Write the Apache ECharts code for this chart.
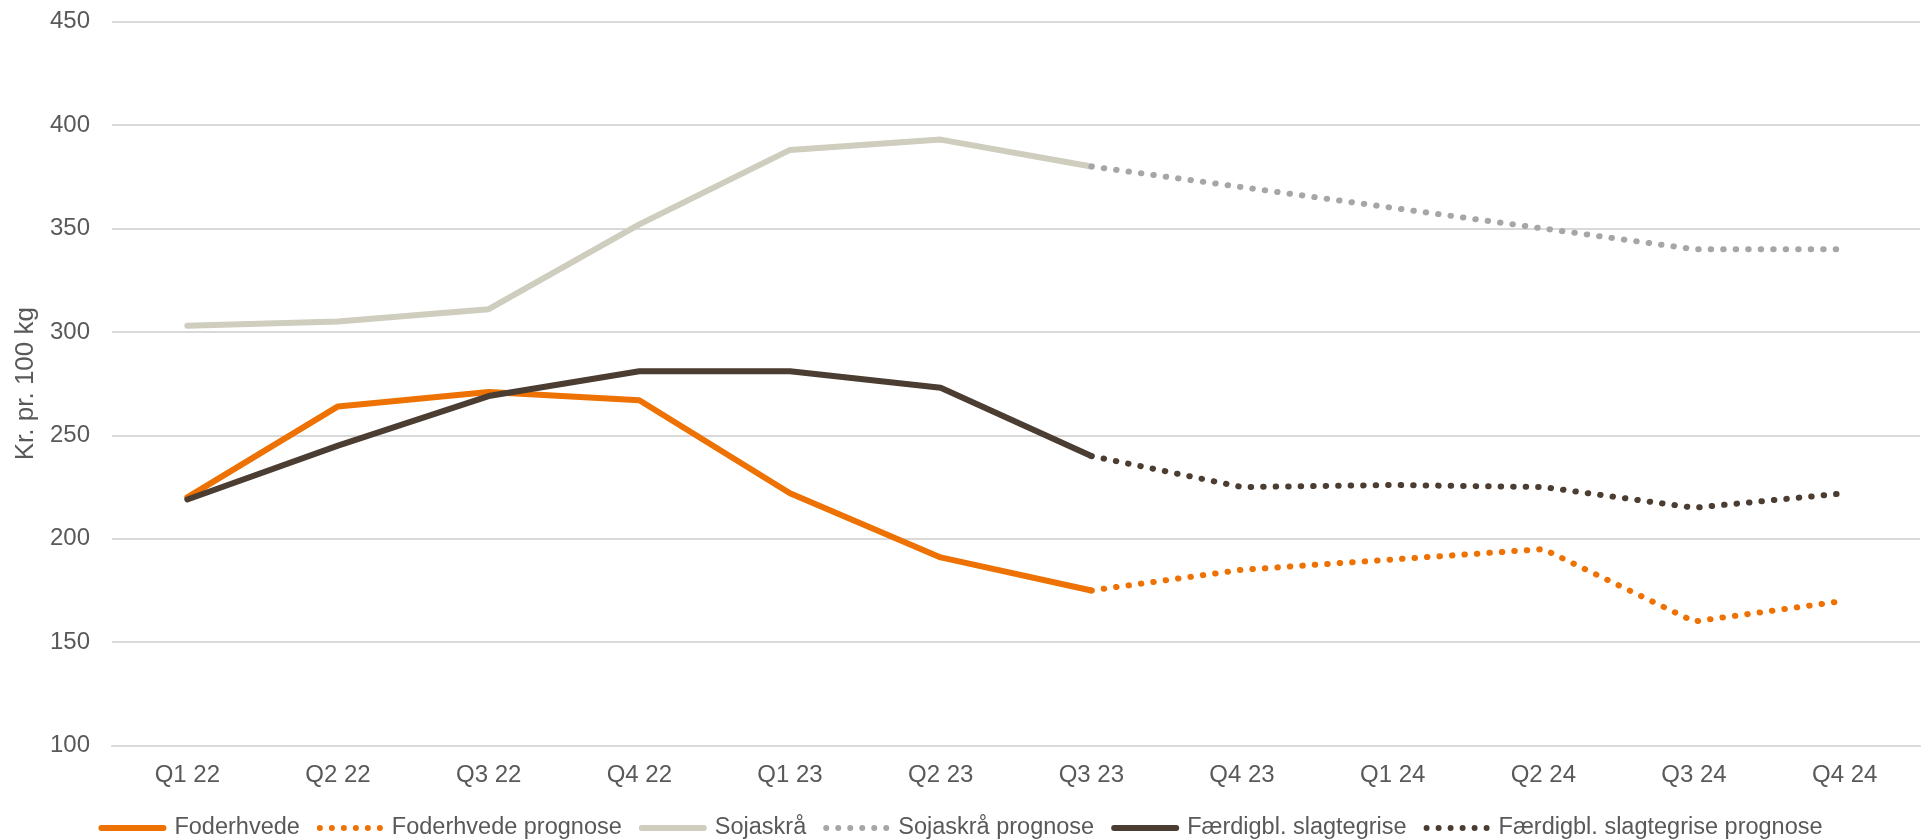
<!DOCTYPE html>
<html>
<head>
<meta charset="utf-8">
<script src="https://cdn.jsdelivr.net/npm/echarts@6/dist/echarts.min.js"></script>
<style>
html,body{margin:0;padding:0;background:#fff;}
#c{width:1921px;height:840px;}
</style>
</head>
<body>
<div id="c"></div>
<script>
var categories = ['Q1 22','Q2 22','Q3 22','Q4 22','Q1 23','Q2 23','Q3 23','Q4 23','Q1 24','Q2 24','Q3 24','Q4 24'];
var foderhvede = [220, 264, 271, 267, 222, 191, 175, null, null, null, null, null];
var foderhvedePrognose = [null, null, null, null, null, null, 175, 185, 190, 195, 160, 170];
var sojaskraa = [303, 305, 311, 352, 388, 393, 380, null, null, null, null, null];
var sojaskraaPrognose = [null, null, null, null, null, null, 380, 370, 360, 350, 340, 340];
var slagtegrise = [219, 245, 269, 281, 281, 273, 240, null, null, null, null, null];
var slagtegrisePrognose = [null, null, null, null, null, null, 240, 225, 226, 225, 215, 222];
var seriesNames = ['Foderhvede','Foderhvede prognose','Sojaskrå','Sojaskrå prognose','Færdigbl. slagtegrise','Færdigbl. slagtegrise prognose'];
var yTicks = {min: 100, max: 450, interval: 50};

var FONT = '"Liberation Sans", Arial, sans-serif';
var TXT = '#595959';
var dots = [0.5, 12];

var solidIcon = 'path://M3,0L67,0A3,3 0 0,1 67,6L3,6A3,3 0 0,1 3,0Z';
var dotIcon = 'path://' + [0, 12, 24, 36, 48, 60].map(function (x) {
  return 'M' + (x + 6) + ',3A3,3 0 1,1 ' + x + ',3A3,3 0 1,1 ' + (x + 6) + ',3Z';
}).join('');

function line(name, data, color, dotted) {
  return {
    name: name, type: 'line', data: data, symbol: 'none', connectNulls: false,
    lineStyle: {color: color, width: 6, type: dotted ? dots : 'solid', cap: 'round', join: 'round'},
    itemStyle: {color: color},
    emphasis: {disabled: true}
  };
}

var chart = echarts.init(document.getElementById('c'));
chart.setOption({
  animation: false,
  textStyle: {fontFamily: FONT},
  grid: {left: 112, right: 1, top: 21.7, bottom: 94.4},
  legend: {
    left: 'center', top: 811,
    itemWidth: 68, itemHeight: 6, itemGap: 17,
    textStyle: {fontSize: 23.5, color: TXT, fontFamily: FONT, padding: [0, 0, 0, 3]},
    data: seriesNames.map(function (n, i) {
      return {name: n, icon: (i % 2) ? dotIcon : solidIcon};
    })
  },
  xAxis: {
    type: 'category', data: categories, boundaryGap: true,
    axisLine: {show: true, lineStyle: {color: '#D9D9D9', width: 2}},
    axisTick: {show: false},
    axisLabel: {color: TXT, fontSize: 24, margin: 18, fontFamily: FONT}
  },
  yAxis: {
    type: 'value', min: yTicks.min, max: yTicks.max, interval: yTicks.interval,
    name: 'Kr. pr. 100 kg', nameLocation: 'middle', nameGap: 67,
    nameTextStyle: {color: TXT, fontSize: 26, fontFamily: FONT},
    axisLine: {show: false}, axisTick: {show: false},
    axisLabel: {color: TXT, fontSize: 24, margin: 22, fontFamily: FONT},
    splitLine: {lineStyle: {color: '#D9D9D9', width: 2}}
  },
  series: [
    line(seriesNames[0], foderhvede, '#EE7203', false),
    line(seriesNames[1], foderhvedePrognose, '#EE7203', true),
    line(seriesNames[2], sojaskraa, '#CFCDBE', false),
    line(seriesNames[3], sojaskraaPrognose, '#A6A6A6', true),
    line(seriesNames[4], slagtegrise, '#4B3D31', false),
    line(seriesNames[5], slagtegrisePrognose, '#4B3D31', true)
  ]
});
</script>
</body>
</html>
